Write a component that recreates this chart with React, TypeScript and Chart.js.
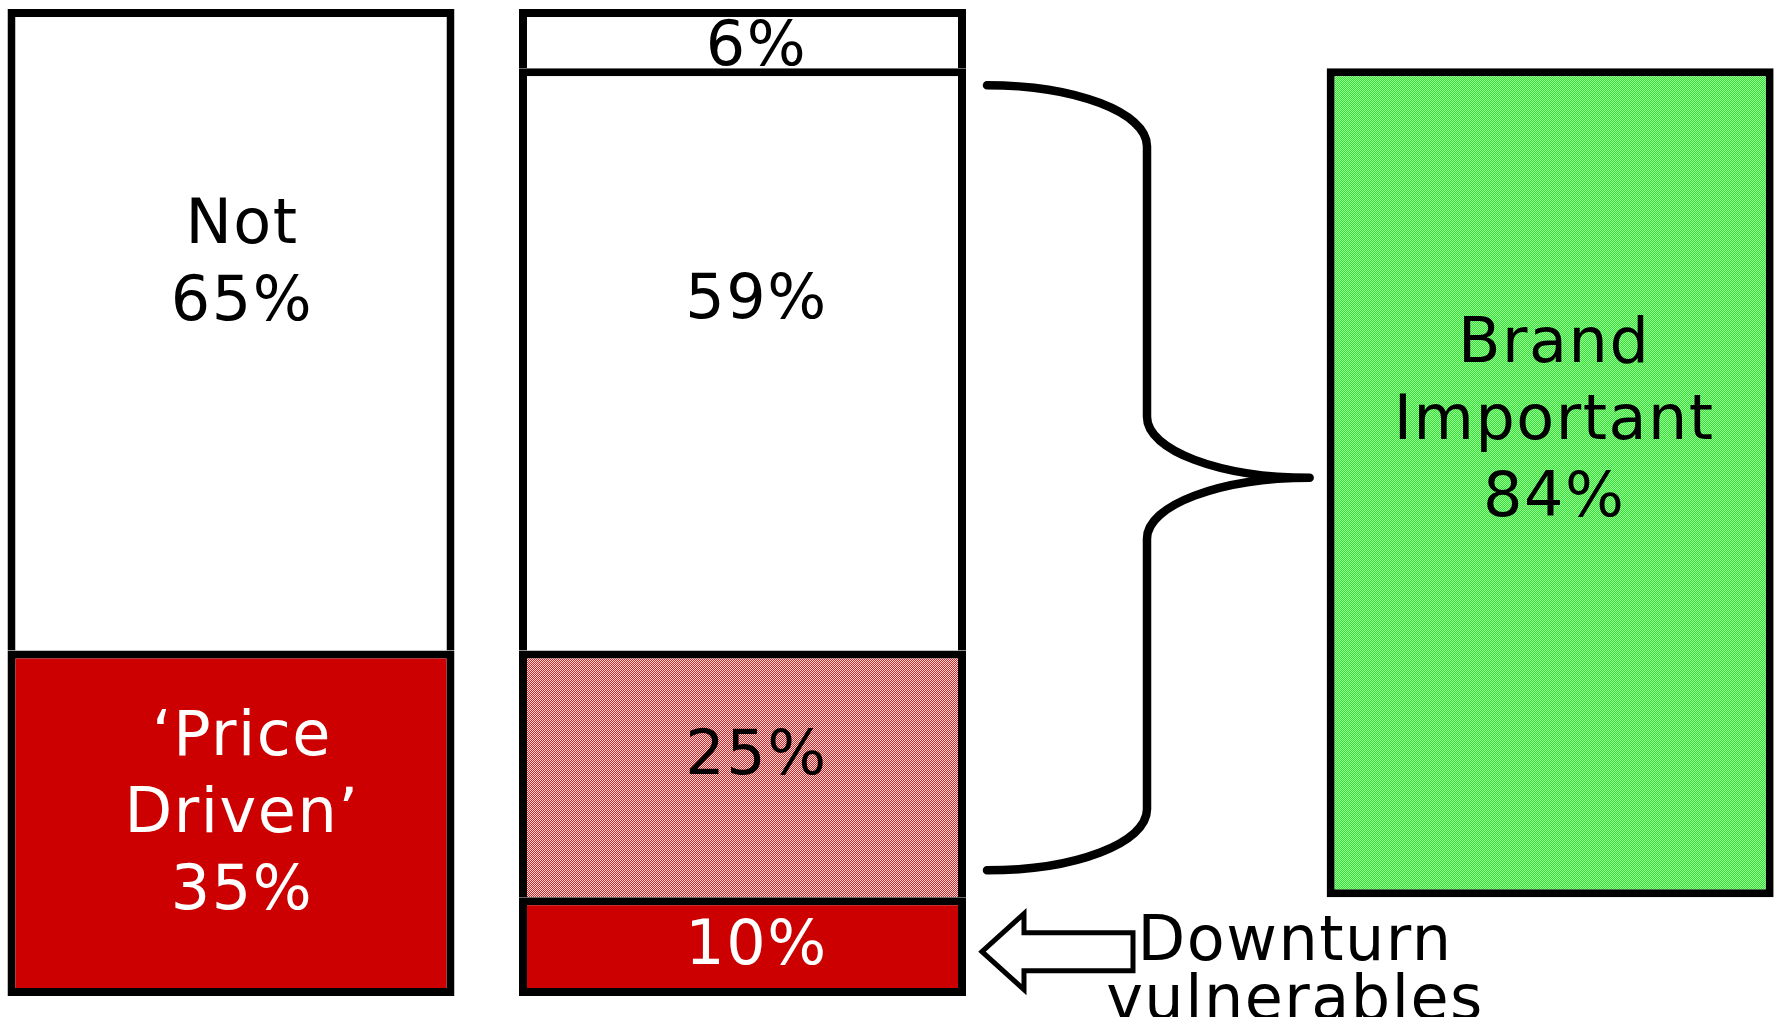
import React, { useEffect, useRef } from "react";
import { Chart, registerables } from "chart.js";

Chart.register(...registerables);

// ---------------- data ----------------
const barCategories = ["Price sensitivity", "Segments", "Brand importance"];

// Bar 1 (bottom → top)
const priceSplitNames = ["‘Price Driven’", "Not"];
const priceSplitValues = [35, 65];
const priceSplitLabels = [["‘Price", "Driven’"], ["Not"]];

// Bar 2 (bottom → top)
const segmentNames = ["Downturn vulnerables", "Price driven, brand important", "Brand important only", "Neither"];
const segmentValues = [10, 25, 59, 6];

// Bar 3: floats over the two middle segments of bar 2
const brandImportantValue = 84;
const brandLabel = ["Brand", "Important"];

const calloutLines = ["Downturn", "vulnerables"];

// ---------------- styles / layout ----------------
const W = 1779;
const H = 1017;
const RED = "#CC0000";
const FONT = "'DejaVu Sans', 'Noto Sans', sans-serif";
const FONT_SIZE = 62;
const LINE_H = 77;
const BAR_SLOTS = [0, 1, 2.579];
const BAR_THICKNESS = 447;
const BORDER = 8;

const priceFills = ["red", "white"];
const priceText = ["#fff", "#000"];
const priceAnchor = [0.46, 0.39];
const segmentFills = ["red", "pink", "white", "white"];
const segmentText = ["#fff", "#000", "#000", "#000"];
const segmentAnchor = [0.45, 0.41, 0.39, 0.57];
const barTextDx = [11, 14, 4];

function checker(ctx: CanvasRenderingContext2D, a: string, b: string) {
  const c = document.createElement("canvas");
  c.width = 2;
  c.height = 2;
  const x = c.getContext("2d")!;
  x.fillStyle = a;
  x.fillRect(0, 0, 2, 2);
  x.fillStyle = b;
  x.fillRect(0, 0, 1, 1);
  x.fillRect(1, 1, 1, 1);
  return ctx.createPattern(c, "repeat")!;
}

type Seg = {
  name: string;
  slot: number;
  lo: number;
  hi: number;
  fill: string;
  text: string;
  lines: string[];
  anchor: number;
  hasBelow: boolean;
};

function getRect(chart: any, i: number) {
  const el: any = chart.getDatasetMeta(i).data[0];
  const p = el.getProps(["x", "y", "base", "width"], true);
  return {
    cx: p.x,
    left: p.x - p.width / 2,
    right: p.x + p.width / 2,
    top: Math.min(p.y, p.base),
    bottom: Math.max(p.y, p.base),
  };
}

export default function App() {
  const ref = useRef<HTMLCanvasElement>(null);

  useEffect(() => {
    const canvas = ref.current!;
    const ctx = canvas.getContext("2d")!;
    const fills: Record<string, any> = {
      red: RED,
      white: "#FFFFFF",
      pink: checker(ctx, "#DD2222", "#F8E0E0"),
      green: checker(ctx, "#22EE22", "#AAF5AA"),
    };

    const segs: Seg[] = [];
    let acc = 0;
    priceSplitValues.forEach((v, i) => {
      segs.push({
        name: priceSplitNames[i],
        slot: 0,
        lo: acc,
        hi: acc + v,
        fill: priceFills[i],
        text: priceText[i],
        lines: [...priceSplitLabels[i], `${v}%`],
        anchor: priceAnchor[i],
        hasBelow: i > 0,
      });
      acc += v;
    });
    acc = 0;
    segmentValues.forEach((v, i) => {
      segs.push({
        name: segmentNames[i],
        slot: 1,
        lo: acc,
        hi: acc + v,
        fill: segmentFills[i],
        text: segmentText[i],
        lines: [`${v}%`],
        anchor: segmentAnchor[i],
        hasBelow: i > 0,
      });
      acc += v;
    });
    segs.push({
      name: "Brand Important",
      slot: 2,
      lo: segmentValues[0],
      hi: segmentValues[0] + brandImportantValue,
      fill: "green",
      text: "#000",
      lines: [...brandLabel, `${brandImportantValue}%`],
      anchor: 0.42,
      hasBelow: false,
    });

    const datasets = segs.map((s) => ({
      label: s.name,
      data: [{ x: BAR_SLOTS[s.slot], y: [s.lo, s.hi] }],
      backgroundColor: fills[s.fill],
      borderColor: "#000",
      borderWidth: BORDER,
      borderSkipped: s.hasBelow ? "bottom" : false,
      barThickness: BAR_THICKNESS,
      grouped: false,
      inflateAmount: 0,
      borderRadius: 0,
    }));

    const overlay = {
      id: "overlay",
      afterDatasetsDraw(c: any) {
        const g: CanvasRenderingContext2D = c.ctx;
        g.save();
        g.font = `${FONT_SIZE}px ${FONT}`;
        (g as any).letterSpacing = "1.5px";
        g.textAlign = "center";
        g.textBaseline = "alphabetic";
        const capHalf = (FONT_SIZE * 0.729) / 2;

        // segment labels
        segs.forEach((s, i) => {
          const r = getRect(c, i);
          const cy = r.top + s.anchor * (r.bottom - r.top);
          const n = s.lines.length;
          g.fillStyle = s.text;
          s.lines.forEach((ln, k) => {
            const y = cy + (k - (n - 1) / 2) * LINE_H + capHalf;
            g.fillText(ln, r.cx + barTextDx[s.slot], y);
          });
        });

        // brace between middle bar (segments 25% + 59%) and brand bar
        const midBase = priceSplitValues.length;
        const r25 = getRect(c, midBase + 1);
        const r59 = getRect(c, midBase + 2);
        const rG = getRect(c, segs.length - 1);
        const k = 0.552;
        const sx = r59.right + 21;
        const vx = sx + 160;
        const tx = rG.left - 17;
        const top = r59.top + 17;
        const bot = r25.bottom - 27;
        const ty = (top + bot) / 2;
        const ry = 61;
        g.beginPath();
        g.moveTo(sx, top);
        g.bezierCurveTo(sx + k * (vx - sx), top, vx, top + ry - k * ry, vx, top + ry);
        g.lineTo(vx, ty - ry);
        g.bezierCurveTo(vx, ty - ry + k * ry, tx - k * (tx - vx), ty, tx, ty);
        g.bezierCurveTo(tx - k * (tx - vx), ty, vx, ty + ry - k * ry, vx, ty + ry);
        g.lineTo(vx, bot - ry);
        g.bezierCurveTo(vx, bot - ry + k * ry, sx + k * (vx - sx), bot, sx, bot);
        g.lineWidth = 8.5;
        g.lineCap = "round";
        g.lineJoin = "round";
        g.strokeStyle = "#000";
        g.stroke();

        // hollow arrow pointing at the downturn segment
        const r10 = getRect(c, midBase);
        const ax = r10.right + 16;
        const ay = (r10.top + r10.bottom) / 2 + 5;
        g.beginPath();
        g.moveTo(ax, ay);
        g.lineTo(ax + 42, ay - 38);
        g.lineTo(ax + 42, ay - 19);
        g.lineTo(ax + 151, ay - 19);
        g.lineTo(ax + 151, ay + 19);
        g.lineTo(ax + 42, ay + 19);
        g.lineTo(ax + 42, ay + 38);
        g.closePath();
        g.fillStyle = "#fff";
        g.fill();
        g.lineWidth = 5;
        g.lineJoin = "miter";
        g.stroke();

        // callout text
        g.fillStyle = "#000";
        const tcx = ax + 151 + 162;
        g.fillText(calloutLines[0], tcx, ay + 8);
        g.fillText(calloutLines[1], tcx, ay + 67);
        g.restore();
      },
    };

    const chart: any = new Chart(canvas, {
      type: "bar",
      data: { labels: barCategories, datasets: datasets as any },
      options: {
        animation: false,
        responsive: false,
        devicePixelRatio: 1,
        events: [],
        layout: { padding: { top: 9, bottom: 21, left: 0, right: 0 } },
        plugins: { legend: { display: false }, tooltip: { enabled: false } },
        scales: {
          x: { type: "linear", min: -0.4516, max: 3.0264, display: false, offset: false },
          y: { type: "linear", min: 0, max: 100, display: false },
        },
      },
      plugins: [overlay],
    });

    return () => chart.destroy();
  }, []);

  return (
    <div style={{ position: "fixed", left: 0, top: 0, width: W, height: H, background: "#fff" }}>
      <canvas ref={ref} width={W} height={H} style={{ display: "block", width: W, height: H }} />
    </div>
  );
}
